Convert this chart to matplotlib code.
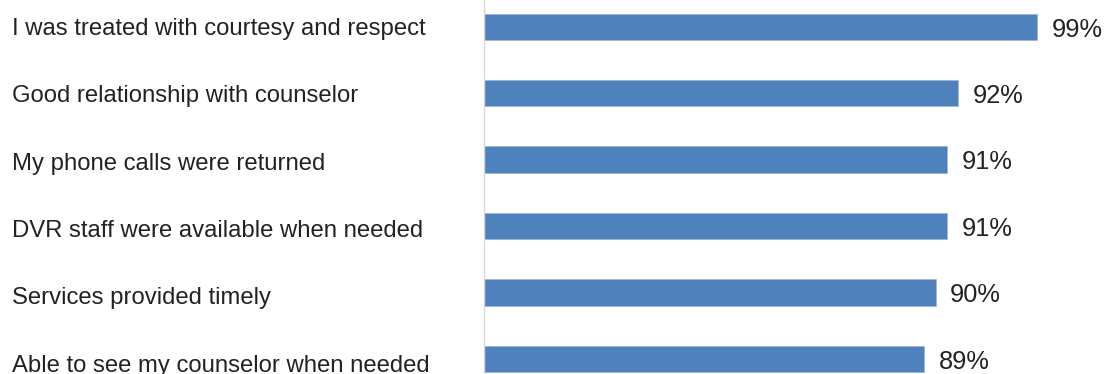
import matplotlib.pyplot as plt

# survey items, top to bottom
labels = ["I was treated with courtesy and respect",
          "Good relationship with counselor",
          "My phone calls were returned",
          "DVR staff were available when needed",
          "Services provided timely",
          "Able to see my counselor when needed"]
values = [99, 92, 91, 91, 90, 89]

plt.rcParams['font.family'] = ['Liberation Sans', 'DejaVu Sans']

W, H = 1106, 374
fig = plt.figure(figsize=(W/100, H/100), dpi=100)
# axes runs a little past the top and bottom of the picture (cropped chart)
ax = fig.add_axes([484/W, -18/H, 564.5/W, 398.4/H])

y = list(range(len(labels)))
ax.barh(y, [v - 50 for v in values], left=50, height=0.4,
        color='#4f81bd', edgecolor='#9fb7d8', linewidth=0.6)
ax.set_xlim(50, 100)
ax.set_ylim(len(labels) - 0.5, -0.5)

for s in ['top', 'right', 'bottom']:
    ax.spines[s].set_visible(False)
ax.spines['left'].set_color('#d9d9d9')
ax.spines['left'].set_linewidth(1)
ax.set_xticks([])
ax.set_yticks([])

for i, (lab, v) in enumerate(zip(labels, values)):
    # category text sits in its own column, baselines ~67px apart
    fig.text(12/W, 1 - (35 + i*67.34)/H, lab, ha='left', va='baseline',
             fontsize=17.2, color='#222222')
    ax.annotate(f"{v}%", (v, i), xytext=(10.5, -7), textcoords='offset points',
                ha='left', va='baseline', fontsize=18.3, color='#222222',
                annotation_clip=False)

fig.savefig('out.png', dpi=100)
